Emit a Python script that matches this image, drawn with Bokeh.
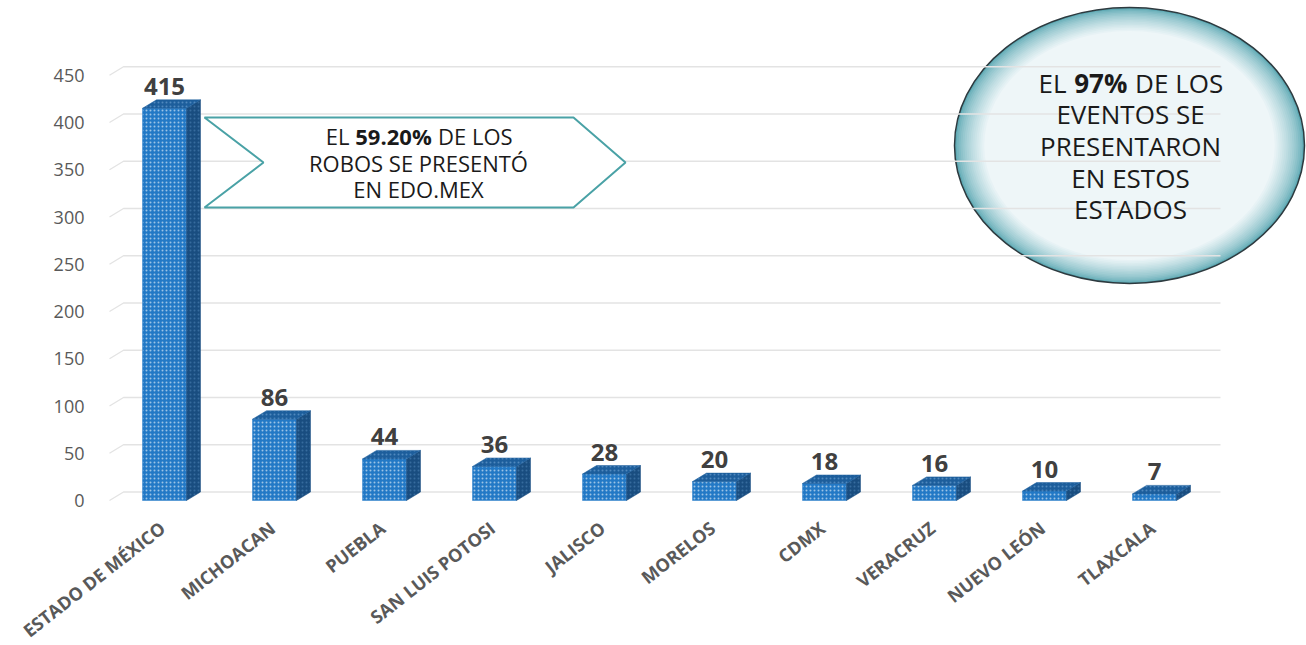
import math
from bokeh.plotting import figure
from bokeh.models import Range1d
from bokeh.core.properties import value
from bokeh.embed import file_html
from bokeh.resources import INLINE

# ---------------- data ----------------
categories = ["ESTADO DE MÉXICO", "MICHOACAN", "PUEBLA", "SAN LUIS POTOSI", "JALISCO",
              "MORELOS", "CDMX", "VERACRUZ", "NUEVO LEÓN", "TLAXCALA"]
values = [415, 86, 44, 36, 28, 20, 18, 16, 10, 7]
y_ticks = [0, 50, 100, 150, 200, 250, 300, 350, 400, 450]

callout_lines = ["EL ", "59.20%", " DE LOS", "ROBOS SE PRESENTÓ", "EN EDO.MEX"]
bubble_lines = ["EL ", "97%", " DE LOS", "EVENTOS SE", "PRESENTARON", "EN ESTOS", "ESTADOS"]

# ---------------- geometry / style ----------------
W, H = 1306, 645
PX_X = 110.0          # pixels per category
PX_Y = 0.945          # pixels per unit value
BAR_W = 0.4
DX = 14 / PX_X        # 3D depth (x)
DY = 8.5 / PX_Y       # 3D depth (y)
FONT = value("Open Sans")

def X(px):  # canvas px -> data x (annotation placement)
    return (px - 164) / PX_X

def Y(py):  # canvas px -> data y
    return (500 - py) / PX_Y

p = figure(width=W, height=H,
           x_range=Range1d(X(0), X(W)), y_range=Range1d(Y(H), Y(0)),
           output_backend="svg", toolbar_location=None,
           min_border_left=0, min_border_right=0, min_border_top=0, min_border_bottom=0)
p.outline_line_color = None
p.xgrid.visible = False
p.ygrid.visible = False
p.xaxis.visible = False
p.yaxis.visible = False
p.background_fill_color = "white"
p.border_fill_color = "white"

# ---------------- bubble (ellipse with radial shading) ----------------
ecx, ecy = X(1129), Y(145)
ew, eh = 350 / PX_X, 276 / PX_Y

def lerp(c1, c2, t):
    a = [int(c1[i:i + 2], 16) for i in (1, 3, 5)]
    b = [int(c2[i:i + 2], 16) for i in (1, 3, 5)]
    return "#%02x%02x%02x" % tuple(round(a[k] + (b[k] - a[k]) * t) for k in range(3))

n = 16
for i in range(n):
    t = i / (n - 1)
    s = 1 - 0.17 * t
    col = lerp("#5ea9b4", "#eef6f8", t ** 0.7)
    p.ellipse(x=[ecx], y=[ecy], width=[ew * s], height=[eh * s],
              fill_color=col, line_color=None)
p.ellipse(x=[ecx], y=[ecy], width=[ew], height=[eh],
          fill_color=None, line_color="#2d3a3f", line_width=1.5)

# ---------------- grid (back wall + side wall) ----------------
gx0 = -0.5
gx1 = X(1220)
gxs = [[gx0, gx0 + DX, gx1] for v in y_ticks]
gys = [[v, v + DY, v + DY] for v in y_ticks]
p.multi_line(xs=gxs, ys=gys, line_color="#e3e3e3", line_width=1.3)

# y tick labels
p.text(x=[gx0] * len(y_ticks), y=y_ticks, text=[str(t) for t in y_ticks],
       x_offset=-25, text_align="right", text_baseline="middle",
       text_font=FONT, text_font_size="18px", text_color="#595959")

# ---------------- 3D bars ----------------
xs = list(range(len(categories)))
p.vbar(x=xs, top=values, bottom=0, width=BAR_W,
       fill_color="#2379c6", line_color="#2a7fca", line_width=0.5,
       hatch_pattern="dot", hatch_color="white", hatch_alpha=0.55,
       hatch_scale=4, hatch_weight=1)
side_x = [[i + BAR_W / 2, i + BAR_W / 2 + DX, i + BAR_W / 2 + DX, i + BAR_W / 2] for i in xs]
side_y = [[0, DY, v + DY, v] for v in values]
p.patches(xs=side_x, ys=side_y, fill_color="#194d80", line_color="#194d80", line_width=0.5,
          hatch_pattern="dot", hatch_color="#6fa3d6", hatch_alpha=0.35, hatch_scale=4)
top_x = [[i - BAR_W / 2, i - BAR_W / 2 + DX, i + BAR_W / 2 + DX, i + BAR_W / 2] for i in xs]
top_y = [[v, v + DY, v + DY, v] for v in values]
p.patches(xs=top_x, ys=top_y, fill_color="#1d5e9c", line_color="#1d5e9c", line_width=0.5,
          hatch_pattern="dot", hatch_color="#8fbbe6", hatch_alpha=0.45, hatch_scale=4)

# value labels
p.text(x=xs, y=[v + DY for v in values], text=[str(v) for v in values],
       y_offset=-5, text_align="center", text_baseline="bottom",
       text_font=FONT, text_font_size="24px", text_font_style="bold", text_color="#404040")

# category labels (rotated, ending under each bar)
p.text(x=xs, y=[0] * len(xs), text=categories, angle=math.radians(38),
       x_offset=-2, y_offset=25, text_align="right", text_baseline="middle",
       text_font=FONT, text_font_size="18px", text_font_style="bold", text_color="#595959")

# ---------------- callout chevron ----------------
cx = [X(204), X(573), X(625), X(573), X(204), X(263)]
cy = [Y(117), Y(117), Y(162), Y(207), Y(207), Y(162)]
p.patch(x=cx, y=cy, fill_color="white", line_color="#4aa2a6", line_width=2)

tcx = X(418)
common = dict(text_font=FONT, text_color="#1a1a1a", text_baseline="middle")
p.text(x=[tcx], y=[Y(135)], text=[callout_lines[0].strip()], x_offset=-69,
       text_align="right", text_font_size="22px", **common)
p.text(x=[tcx], y=[Y(135)], text=[callout_lines[1]], x_offset=-25,
       text_align="center", text_font_size="22px", text_font_style="bold", **common)
p.text(x=[tcx], y=[Y(135)], text=[callout_lines[2].strip()], x_offset=19.5,
       text_align="left", text_font_size="22px", **common)
p.text(x=[tcx, tcx], y=[Y(162), Y(188)], text=callout_lines[3:5],
       text_align="center", text_font_size="22px", **common)

# ---------------- bubble text ----------------
bcx = X(1130)
p.text(x=[bcx], y=[Y(82)], text=[bubble_lines[0].strip()], x_offset=-64,
       text_align="right", text_font_size="26px", **common)
p.text(x=[bcx], y=[Y(82)], text=[bubble_lines[1]], x_offset=-29.7,
       text_align="center", text_font_size="26px", text_font_style="bold", **common)
p.text(x=[bcx], y=[Y(82)], text=[bubble_lines[2].strip()], x_offset=4.6,
       text_align="left", text_font_size="26px", **common)
p.text(x=[bcx] * 4, y=[Y(113), Y(145), Y(177), Y(208)], text=bubble_lines[3:7],
       text_align="center", text_font_size="26px", **common)

open("out.html", "w").write(file_html(p, INLINE))
